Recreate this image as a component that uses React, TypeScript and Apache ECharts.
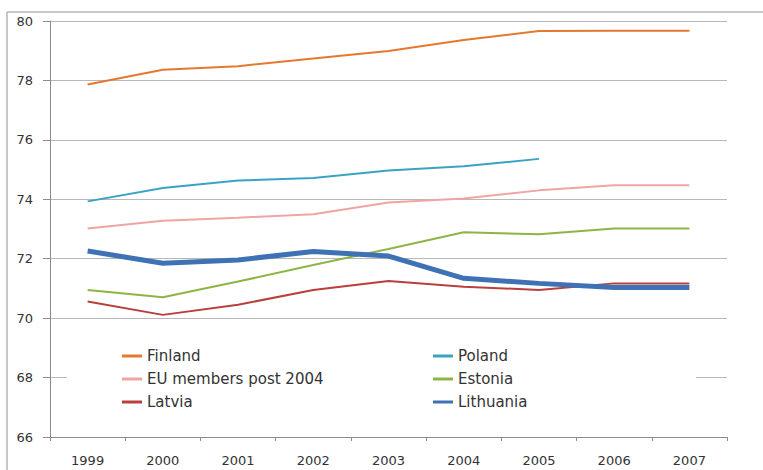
import React, { useEffect, useRef } from "react";
import * as echarts from "echarts";

const years = ["1999", "2000", "2001", "2002", "2003", "2004", "2005", "2006", "2007"];
const finland = [77.86, 78.36, 78.48, 78.74, 78.99, 79.36, 79.66, 79.67, 79.67];
const poland = [73.93, 74.38, 74.63, 74.72, 74.97, 75.11, 75.36, null, null];
const euPost2004 = [73.02, 73.28, 73.38, 73.5, 73.89, 74.03, 74.3, 74.47, 74.47];
const estonia = [70.95, 70.7, 71.23, 71.79, 72.33, 72.89, 72.82, 73.02, 73.02];
const latvia = [70.56, 70.11, 70.45, 70.95, 71.25, 71.06, 70.95, 71.17, 71.17];
const lithuania = [72.26, 71.85, 71.96, 72.24, 72.09, 71.34, 71.17, 71.03, 71.03];

const seriesDefs = [
  { name: "Finland", data: finland, color: "#e5782f", width: 2 },
  { name: "Poland", data: poland, color: "#3aa3c3", width: 2 },
  { name: "EU members post 2004", data: euPost2004, color: "#f0a5a3", width: 2 },
  { name: "Estonia", data: estonia, color: "#8db545", width: 2 },
  { name: "Latvia", data: latvia, color: "#b8403c", width: 2 },
  { name: "Lithuania", data: lithuania, color: "#3f72b5", width: 5 },
];

export default function App() {
  const ref = useRef<HTMLDivElement>(null);
  useEffect(() => {
    const chart = echarts.init(ref.current!, undefined, { renderer: "svg" });
    const font = "'DejaVu Sans', 'Open Sans', sans-serif";
    const legendText = { color: "#333", fontSize: 15, fontFamily: font, lineHeight: 16 };
    const legendBase = {
      orient: "vertical",
      top: 343,
      itemWidth: 20,
      itemHeight: 3,
      itemGap: 7,
      icon: "rect",
      textStyle: legendText,
      z: 5,
    };
    chart.setOption({
      animation: false,
      backgroundColor: "#fff",
      grid: { left: 50, right: 36, top: 21, bottom: 33, containLabel: false },
      graphic: [
        { type: "line", shape: { x1: 7, y1: 12, x2: 763, y2: 12 }, style: { stroke: "#b5b5b5", lineWidth: 1.5 }, z: 10 },
        { type: "line", shape: { x1: 7, y1: 12, x2: 7, y2: 470 }, style: { stroke: "#b5b5b5", lineWidth: 1.5 }, z: 10 },
        { type: "rect", shape: { x: 67, y: 336, width: 629, height: 76 }, style: { fill: "#fff" }, z: 1 },
      ],
      legend: [
        { ...legendBase, data: ["Finland", "EU members post 2004", "Latvia"], left: 117 },
        { ...legendBase, data: ["Poland", "Estonia", "Lithuania"], left: 428 },
      ],
      xAxis: {
        type: "category",
        data: years,
        boundaryGap: true,
        axisLine: { lineStyle: { color: "#8c8c8c", width: 1 } },
        axisTick: { show: true, length: 4, lineStyle: { color: "#8c8c8c" } },
        axisLabel: { color: "#333", fontSize: 13, fontFamily: font, margin: 17 },
      },
      yAxis: {
        type: "value",
        min: 66,
        max: 80,
        interval: 2,
        axisLine: { show: true, lineStyle: { color: "#8c8c8c", width: 1 } },
        axisTick: { show: true, length: 7, lineStyle: { color: "#8c8c8c" } },
        axisLabel: { color: "#333", fontSize: 13, fontFamily: font, margin: 17 },
        splitLine: { lineStyle: { color: "#b8b8b8", width: 1 } },
      },
      series: seriesDefs.map((s) => ({
        name: s.name,
        type: "line",
        data: s.data,
        symbol: "none",
        itemStyle: { color: s.color },
        lineStyle: { color: s.color, width: s.width },
        z: s.name === "Lithuania" ? 3 : 2,
      })),
    });
    return () => chart.dispose();
  }, []);
  return <div ref={ref} style={{ width: 763, height: 470, position: "absolute", left: 0, top: 0 }} />;
}
